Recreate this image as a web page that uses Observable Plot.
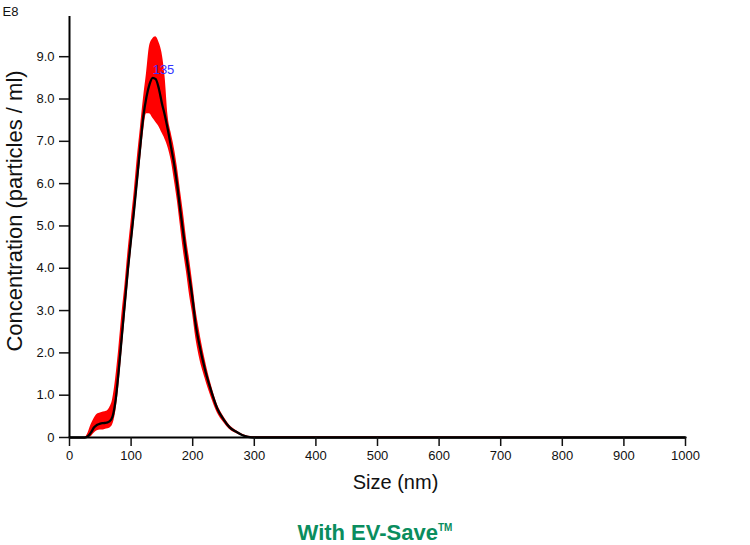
<!DOCTYPE html>
<html>
<head>
<meta charset="utf-8">
<script src="https://cdn.jsdelivr.net/npm/d3@7"></script>
<script src="https://cdn.jsdelivr.net/npm/@observablehq/plot@0.6"></script>
<style>
  html, body { margin: 0; padding: 0; background: #fff; }
  #chart { width: 750px; }
  #caption { width: 750px; height: 35px; line-height: 35px; text-align: center;
    font-family: "Liberation Sans", Arial, sans-serif; font-weight: bold; font-size: 22px; color: #0a8d5e; }
  #caption sup { font-size: 10px; vertical-align: 9px; }
</style>
</head>
<body>
<div id="chart"></div>
<div id="caption">With EV-Save<sup>TM</sup></div>
<script>
// Size (nm)
const sizes = [0, 25, 30, 35, 40, 45, 50, 55, 60, 65, 70, 75, 80, 85, 90, 95, 100, 105, 110, 115, 120, 125, 130, 135, 140, 145, 150, 155, 160, 165, 170, 175, 180, 185, 190, 195, 200, 205, 210, 220, 230, 240, 250, 260, 270, 280, 290, 300, 350, 400, 1000];
// Mean concentration (E8 particles / ml)
const meanConc = [0, 0, 0.03, 0.12, 0.24, 0.3, 0.33, 0.34, 0.35, 0.38, 0.5, 0.9, 1.6, 2.4, 3.2, 4.0, 4.7, 5.4, 6.15, 6.9, 7.6, 8.05, 8.35, 8.5, 8.47, 8.25, 7.9, 7.6, 7.25, 6.85, 6.45, 5.95, 5.35, 4.8, 4.25, 3.75, 3.25, 2.65, 2.25, 1.6, 1.1, 0.68, 0.43, 0.24, 0.14, 0.06, 0.015, 0, 0, 0, 0];
// Upper / lower error bounds
const upperConc = [0, 0, 0.1, 0.3, 0.45, 0.55, 0.58, 0.6, 0.62, 0.7, 0.9, 1.4, 2.1, 2.9, 3.6, 4.4, 5.1, 5.8, 6.6, 7.3, 8.0, 8.6, 9.25, 9.42, 9.47, 9.35, 9.1, 8.55, 7.6, 7.2, 6.85, 6.4, 5.85, 5.3, 4.7, 4.2, 3.65, 3.05, 2.6, 1.85, 1.25, 0.78, 0.5, 0.29, 0.17, 0.08, 0.03, 0.02, 0.02, 0.02, 0];
const lowerConc = [0, 0, 0, 0.02, 0.1, 0.16, 0.18, 0.18, 0.2, 0.22, 0.3, 0.6, 1.2, 2.0, 2.8, 3.6, 4.35, 5.05, 5.8, 6.5, 7.2, 7.65, 7.65, 7.55, 7.45, 7.35, 7.2, 7.05, 6.85, 6.55, 6.1, 5.6, 5.0, 4.4, 3.9, 3.35, 2.9, 2.35, 1.95, 1.4, 0.95, 0.58, 0.36, 0.19, 0.1, 0.04, 0, 0, 0, 0, 0];
// Ticks
const xTicks = [0, 100, 200, 300, 400, 500, 600, 700, 800, 900, 1000];
const yTicks = [0, 1, 2, 3, 4, 5, 6, 7, 8, 9];
const yTickLabels = ["0", "1.0", "2.0", "3.0", "4.0", "5.0", "6.0", "7.0", "8.0", "9.0"];
// Peak annotation
const peakSize = [135];
const peakConc = [8.5];
const peakLabel = ["135"];

const data = sizes.map((s, i) => ({size: s, mean: meanConc[i], upper: upperConc[i], lower: lowerConc[i]}));
const peak = peakSize.map((s, i) => ({size: s, conc: peakConc[i], label: peakLabel[i]}));

const font = "'Liberation Sans', Arial, sans-serif";

const chart = Plot.plot({
  width: 750,
  height: 510,
  marginLeft: 69,
  marginRight: 65,
  marginTop: 16,
  marginBottom: 73,
  style: {fontFamily: font, fontSize: "13px", color: "#111", background: "#fff"},
  x: {domain: [0, 1000]},
  y: {domain: [0, 9.95]},
  marks: [
    Plot.areaY(data, {x: "size", y1: "lower", y2: "upper", fill: "#ff0000", curve: "monotone-x"}),
    Plot.lineY(data, {x: "size", y: "mean", stroke: "#000", strokeWidth: 2.3, curve: "monotone-x"}),
    Plot.ruleY([0], {stroke: "#000", strokeWidth: 2}),
    Plot.ruleX([0], {y1: 0, y2: 9.95, stroke: "#000", strokeWidth: 2}),
    Plot.axisY({ticks: yTicks, tickFormat: d => yTickLabels[yTicks.indexOf(d)], tickSize: 10, tickPadding: 5, strokeWidth: 1.5, fontSize: 13, label: null}),
    Plot.axisX({ticks: xTicks, tickFormat: d => String(d), tickSize: 9, tickPadding: 4, strokeWidth: 1.5, fontSize: 13, label: null}),
    Plot.text(peak, {x: "size", y: "conc", text: "label", dy: -8, textAnchor: "start", fill: "#3535ff", fontSize: 13}),
    Plot.text(["E8"], {frameAnchor: "top-left", text: d => d, dx: -67, dy: -5, lineAnchor: "middle", textAnchor: "start", fontSize: 13}),
    Plot.text(["Size (nm)"], {frameAnchor: "bottom", text: d => d, dx: 18, dy: 45, lineAnchor: "middle", fontSize: 20}),
    Plot.text(["Concentration (particles / ml)"], {frameAnchor: "left", text: d => d, rotate: -90, dx: -55, dy: -16, textAnchor: "middle", lineAnchor: "middle", fontSize: 22})
  ]
});
document.getElementById("chart").appendChild(chart);
</script>
</body>
</html>
